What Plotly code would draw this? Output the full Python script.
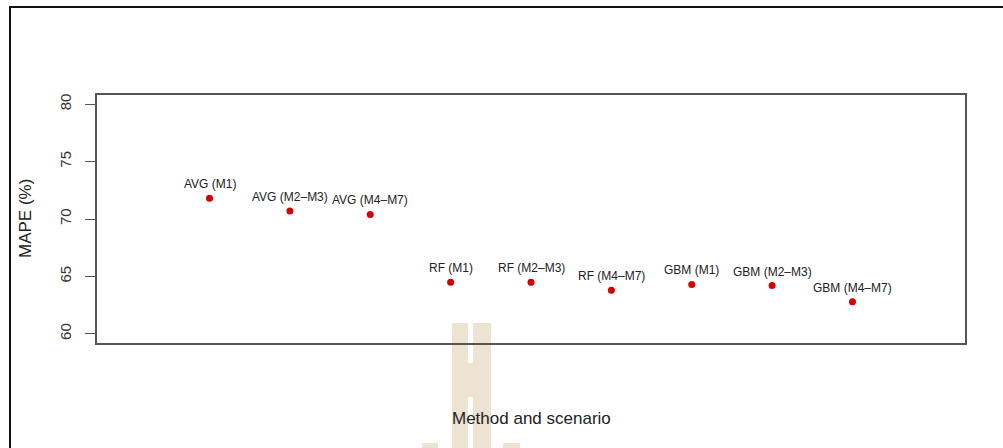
import plotly.graph_objects as go

# Scenario labels and MAPE values (%)
methods = ["AVG (M1)", "AVG (M2–M3)", "AVG (M4–M7)",
           "RF (M1)", "RF (M2–M3)", "RF (M4–M7)",
           "GBM (M1)", "GBM (M2–M3)", "GBM (M4–M7)"]
mape = [71.8, 70.7, 70.4, 64.5, 64.5, 63.8, 64.3, 64.2, 62.8]
positions = list(range(1, len(methods) + 1))
y_ticks = [60, 65, 70, 75, 80]

W, H = 1003, 448
L, R, T, B = 97, 38, 95, 105
pw, ph = W - L - R, H - T - B


def px(x):
    return (x - L) / pw


def py(y):
    return (H - B - y) / ph


fig = go.Figure()
fig.add_trace(go.Scatter(
    x=positions, y=mape, mode="markers",
    marker=dict(color="#d80000", size=7, line=dict(width=0)),
    hoverinfo="skip", showlegend=False,
))

for xi, yi, lab in zip(positions, mape, methods):
    fig.add_annotation(x=xi, y=yi, text=lab, showarrow=False,
                       yshift=14, xanchor="center", yanchor="middle",
                       font=dict(size=12, color="#222", family="Liberation Sans, Arial"))

# axis titles
fig.add_annotation(xref="paper", yref="paper", x=px(25), y=0.5, text="MAPE (%)",
                   textangle=-90, showarrow=False, xanchor="center", yanchor="middle",
                   font=dict(size=17, color="#222", family="Liberation Sans, Arial"))
fig.add_annotation(xref="paper", yref="paper", x=0.5, y=py(418), text="Method and scenario",
                   showarrow=False, xanchor="center", yanchor="middle",
                   font=dict(size=17, color="#222", family="Liberation Sans, Arial"))

# faint emblem behind the lower part of the figure
beige = "#ece3d2"
for x0, y0, x1, y1 in [(452, 323, 468, 448), (473, 323, 491, 448), (468, 363, 473, 397),
                       (422, 443, 438, 448), (503, 443, 520, 448)]:
    fig.add_shape(type="rect", xref="paper", yref="paper", layer="below",
                  x0=px(x0), x1=px(x1), y0=py(y1), y1=py(y0),
                  fillcolor=beige, line=dict(width=0))

# outer frame (left and top edges)
fig.add_shape(type="line", xref="paper", yref="paper", x0=px(10), x1=px(10),
              y0=py(H + 2), y1=py(6), line=dict(color="#111", width=2))
fig.add_shape(type="line", xref="paper", yref="paper", x0=px(9), x1=px(W + 2),
              y0=py(7), y1=py(7), line=dict(color="#111", width=2))

fig.update_layout(
    width=W, height=H,
    margin=dict(l=L, r=R, t=T, b=B, autoexpand=False),
    paper_bgcolor="white", plot_bgcolor="white",
    font=dict(family="Liberation Sans, Arial", color="#333"),
    xaxis=dict(range=[-0.4, 10.4], showticklabels=False, ticks="", showgrid=False,
               zeroline=False, showline=True, mirror=True, linecolor="#555",
               linewidth=1.5, fixedrange=True),
    yaxis=dict(range=[59.2, 80.8], tickvals=y_ticks, ticktext=[str(v) for v in y_ticks],
               ticks="outside", ticklen=10, tickwidth=1.2, tickcolor="#555",
               tickangle=-90, tickfont=dict(size=15, color="#333"),
               ticklabelstandoff=8,
               showgrid=False, zeroline=False, showline=True, mirror=True,
               linecolor="#555", linewidth=1.5, fixedrange=True),
)

fig.write_html("out.html")
